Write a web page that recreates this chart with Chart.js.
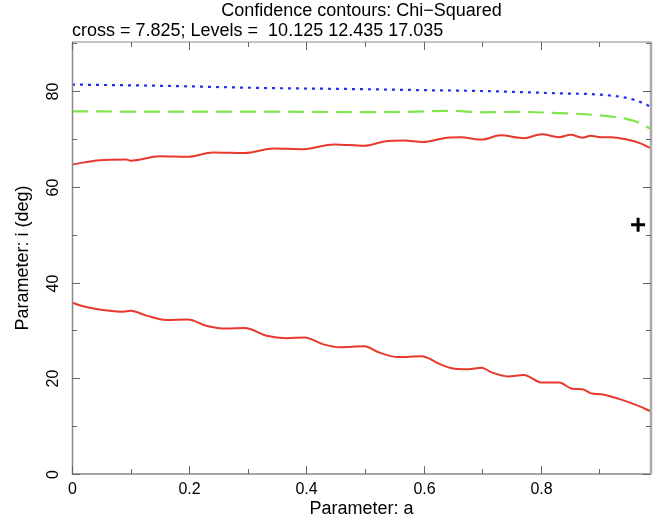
<!DOCTYPE html>
<html>
<head>
<meta charset="utf-8">
<script src="https://cdn.jsdelivr.net/npm/chart.js@4/dist/chart.umd.min.js"></script>
<style>
  body { margin: 0; background: #fff; }
  #wrap { width: 670px; height: 525px; }
</style>
</head>
<body>
<div id="wrap"><canvas id="contours"></canvas></div>
<script>
// contour lines
var aBlue = [0, 0.15, 0.32, 0.49, 0.59, 0.70, 0.82, 0.92, 0.96, 0.988];
var iBlue = [81.4, 81.15, 80.7, 80.45, 80.25, 80.05, 79.6, 79.1, 78.2, 76.75];

var aGreen = [0, 0.15, 0.32, 0.49, 0.57, 0.648, 0.70, 0.76, 0.817, 0.875, 0.92, 0.96, 0.988];
var iGreen = [75.8, 75.75, 75.75, 75.65, 75.7, 75.9, 75.6, 75.7, 75.5, 75.2, 74.7, 73.8, 72.1];

var aUpper = [0, 0.047, 0.093, 0.1, 0.15, 0.196, 0.241, 0.295, 0.344, 0.395, 0.447, 0.499, 0.533, 0.567, 0.598,
              0.640, 0.663, 0.699, 0.731, 0.771, 0.802, 0.831, 0.851, 0.871, 0.885, 0.902, 0.920, 0.947, 0.970, 0.988];
var iUpper = [64.7, 65.6, 65.75, 65.5, 66.4, 66.3, 67.2, 67.1, 68.05, 67.9, 68.9, 68.6, 69.5, 69.7, 69.4,
              70.3, 70.4, 69.9, 70.8, 70.2, 71.0, 70.4, 70.9, 70.3, 70.7, 70.4, 70.4, 69.9, 69.1, 68.05];

var aLower = [0, 0.024, 0.064, 0.087, 0.1, 0.127, 0.161, 0.198, 0.229, 0.264, 0.295, 0.332, 0.366, 0.397, 0.429,
              0.457, 0.499, 0.522, 0.556, 0.596, 0.630, 0.648, 0.676, 0.699, 0.716, 0.744, 0.771, 0.802, 0.831,
              0.854, 0.871, 0.886, 0.903, 0.932, 0.960, 0.988];
var iLower = [35.8, 34.9, 34.1, 33.9, 34.1, 33.1, 32.2, 32.3, 31.0, 30.4, 30.5, 28.9, 28.4, 28.55, 27.1,
              26.5, 26.7, 25.5, 24.45, 24.6, 22.85, 22.1, 21.9, 22.2, 21.25, 20.4, 20.7, 19.1, 19.1,
              17.8, 17.7, 16.85, 16.65, 15.75, 14.55, 13.1];

var crossA = [0.966];
var crossI = [52.1];

var xTickLabels = ['0', '0.2', '0.4', '0.6', '0.8'];
var yTickLabels = ['0', '20', '40', '60', '80'];

var titleText = 'Confidence contours: Chi\u2212Squared';
var subText = 'cross = 7.825; Levels =  10.125 12.435 17.035';

function pts(xs, ys) {
    return xs.map(function (v, k) { return {x: v, y: ys[k]}; });
}

var FONT = '"Liberation Sans", Arial, sans-serif';
var red = '#e8392f';

function lineSet(xs, ys, color, dash, width) {
    return {
        data: pts(xs, ys),
        borderColor: color,
        borderWidth: width,
        borderDash: dash,
        pointRadius: 0,
        showLine: true,
        fill: false,
        tension: 0.4,
        cubicInterpolationMode: 'monotone'
    };
}

var frame = {
    id: 'frame',
    afterDraw: function (chart) {
        var c = chart.ctx, area = chart.chartArea;
        var xs = chart.scales.x, ys = chart.scales.y;
        c.save();
        // box
        c.strokeStyle = '#888';
        c.lineWidth = 1;
        c.beginPath();
        c.moveTo(area.left, area.top); c.lineTo(area.right, area.top);
        c.stroke();
        c.lineWidth = 1.5;
        c.beginPath();
        c.moveTo(area.left + 0.5, area.top); c.lineTo(area.left + 0.5, area.bottom);
        c.lineTo(area.right, area.bottom);
        c.stroke();
        c.strokeStyle = '#aaa';
        c.lineWidth = 2.5;
        c.beginPath();
        c.moveTo(area.right, area.top); c.lineTo(area.right, area.bottom);
        c.stroke();

        // inward ticks, long ones get a label
        c.strokeStyle = '#666';
        c.lineWidth = 1;
        c.fillStyle = '#000';
        c.font = '16px ' + FONT;
        xs.ticks.forEach(function (t) {
            var px = Math.round(xs.getPixelForValue(t.value)) + 0.5;
            var k = Math.round(t.value * 10);
            var len = (k % 2 === 0) ? 8 : 5;
            c.beginPath();
            c.moveTo(px, area.bottom); c.lineTo(px, area.bottom - len);
            c.moveTo(px, area.top); c.lineTo(px, area.top + len);
            c.stroke();
            if (k % 2 === 0 && xTickLabels[k / 2] !== undefined) {
                c.textAlign = 'center';
                c.textBaseline = 'middle';
                c.fillText(xTickLabels[k / 2], px, area.bottom + 16);
            }
        });
        ys.ticks.forEach(function (t) {
            var py = Math.round(ys.getPixelForValue(t.value)) + 0.5;
            var k = Math.round(t.value / 10);
            var len = (k % 2 === 0) ? 8 : 5;
            c.beginPath();
            c.moveTo(area.left, py); c.lineTo(area.left + len, py);
            c.moveTo(area.right, py); c.lineTo(area.right - len, py);
            c.stroke();
            if (k % 2 === 0 && yTickLabels[k / 2] !== undefined) {
                c.save();
                c.translate(area.left - 18, py);
                c.rotate(-Math.PI / 2);
                c.textAlign = 'center';
                c.textBaseline = 'middle';
                c.fillText(yTickLabels[k / 2], 0, 0);
                c.restore();
            }
        });

        // titles
        var midX = (area.left + area.right) / 2;
        c.font = '18px ' + FONT;
        c.textBaseline = 'middle';
        c.textAlign = 'center';
        c.fillText(titleText, midX, 11);
        c.textAlign = 'left';
        c.fillText(subText, area.left, 31);
        c.textAlign = 'center';
        c.fillText('Parameter: a', midX, area.bottom + 35);
        c.save();
        c.translate(23, (area.top + area.bottom) / 2);
        c.rotate(-Math.PI / 2);
        c.fillText('Parameter: i (deg)', 0, 0);
        c.restore();
        c.restore();
    }
};

new Chart(document.getElementById('contours'), {
    type: 'scatter',
    data: {
        datasets: [
            lineSet(aBlue, iBlue, '#1f2cf5', [3, 5], 2.2),
            lineSet(aGreen, iGreen, '#7fe64c', [16, 8], 2.2),
            lineSet(aUpper, iUpper, red, [], 2),
            lineSet(aLower, iLower, red, [], 2),
            {
                data: pts(crossA, crossI),
                pointStyle: 'cross',
                pointRadius: 7,
                borderWidth: 3,
                borderColor: '#000',
                backgroundColor: '#000',
                showLine: false
            }
        ]
    },
    options: {
        responsive: true,
        maintainAspectRatio: false,
        animation: false,
        layout: {padding: {left: 72, right: 19, top: 42, bottom: 51}},
        plugins: {legend: {display: false}, tooltip: {enabled: false}, title: {display: false}},
        scales: {
            x: {
                type: 'linear', min: 0, max: 0.988,
                ticks: {display: false, stepSize: 0.1, includeBounds: false},
                grid: {display: false}, border: {display: false},
                afterFit: function (s) { s.height = 0; }
            },
            y: {
                type: 'linear', min: 0, max: 90.3,
                ticks: {display: false, stepSize: 10, includeBounds: false},
                grid: {display: false}, border: {display: false},
                afterFit: function (s) { s.width = 0; }
            }
        }
    },
    plugins: [frame]
});
</script>
</body>
</html>
